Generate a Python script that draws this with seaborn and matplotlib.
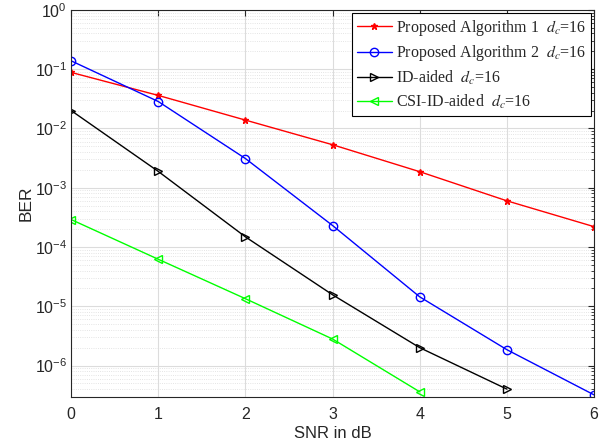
import matplotlib
matplotlib.use("Agg")
import matplotlib.pyplot as plt
import seaborn as sns
import numpy as np
import pandas as pd
from matplotlib.ticker import LogLocator, NullFormatter, FixedLocator

snr_a = [0, 1, 2, 3, 4, 5, 6]
alg1 = [0.088, 0.036, 0.0138, 0.0053, 0.00186, 6.0e-4, 2.2e-4]
alg2 = [0.138, 0.0284, 0.0031, 2.3e-4, 1.44e-5, 1.85e-6, 3.2e-7]
snr_id = [0, 1, 2, 3, 4, 5]
id_aided = [0.020, 1.88e-3, 1.48e-4, 1.56e-5, 2.0e-6, 4.0e-7]
snr_csi = [0, 1, 2, 3, 4]
csi_aided = [2.9e-4, 6.2e-5, 1.34e-5, 2.8e-6, 3.6e-7]

labels = ["Proposed Algorithm 1  $d_c$=16", "Proposed Algorithm 2  $d_c$=16",
          "ID-aided  $d_c$=16", "CSI-ID-aided  $d_c$=16"]

sns.set_style("white")
plt.rcParams['font.family'] = ['Liberation Sans', 'DejaVu Sans']
plt.rcParams['mathtext.fontset'] = 'stix'

fig = plt.figure(figsize=(6.08, 4.47), dpi=100)
ax = fig.add_axes([0.117, 0.112, 0.860, 0.866])

series = [
    (snr_a, alg1, labels[0], '#ff0000', '*', 'full', 5),
    (snr_a, alg2, labels[1], '#0000ff', 'o', 'none', 6),
    (snr_id, id_aided, labels[2], '#000000', '>', 'none', 6),
    (snr_csi, csi_aided, labels[3], '#00ff00', '<', 'none', 6),
]
for x, y, lab, col, mk, fill, ms in series:
    df = pd.DataFrame({"x": x, "y": y})
    sns.lineplot(data=df, x="x", y="y", ax=ax, color=col, marker=mk, label=lab,
                 markersize=ms, linewidth=1.0, markerfacecolor=(col if fill == 'full' else 'none'),
                 markeredgecolor=col, markeredgewidth=1.0)

ax.set_yscale('log')
ax.set_xlim(0, 6)
ax.set_ylim(10**-6.53, 1)
ax.set_xticks(range(7))
ax.yaxis.set_major_locator(FixedLocator([10.0**k for k in range(-6, 1)]))
minors = [m * 10.0**k for k in range(-7, 0) for m in range(2, 10) if 10**-6.53 <= m * 10.0**k <= 1]
ax.yaxis.set_minor_locator(FixedLocator(minors))
ax.yaxis.set_minor_formatter(NullFormatter())
ax.grid(True, which='major', color='#dcdcdc', linewidth=0.8)
ax.grid(True, which='minor', axis='y', color='#dcdcdc', linestyle=':', linewidth=0.6)
ax.set_axisbelow(True)
ax.tick_params(direction='in', which='both', top=True, right=True, labelsize=11.5, colors='#262626')
ax.tick_params(axis='x', pad=7)
ax.tick_params(axis='y', pad=3)
ax.tick_params(which='minor', length=2)
ax.tick_params(which='major', length=4)
for s in ax.spines.values():
    s.set_color('#262626')
    s.set_linewidth(0.8)
ax.set_xlabel("SNR in dB", fontsize=12, color='#262626', labelpad=3)
ax.set_ylabel("BER", fontsize=12.5, color='#262626', labelpad=1)

leg = ax.legend(loc='upper right', prop={'family': 'Liberation Serif', 'size': 11.5},
                frameon=True, fancybox=False, edgecolor='black', framealpha=1,
                borderaxespad=0.2, handlelength=2.2, handletextpad=0.25, labelspacing=0.35,
                borderpad=0.3)
leg.get_frame().set_linewidth(0.8)

fig.savefig("out.png", dpi=100)
